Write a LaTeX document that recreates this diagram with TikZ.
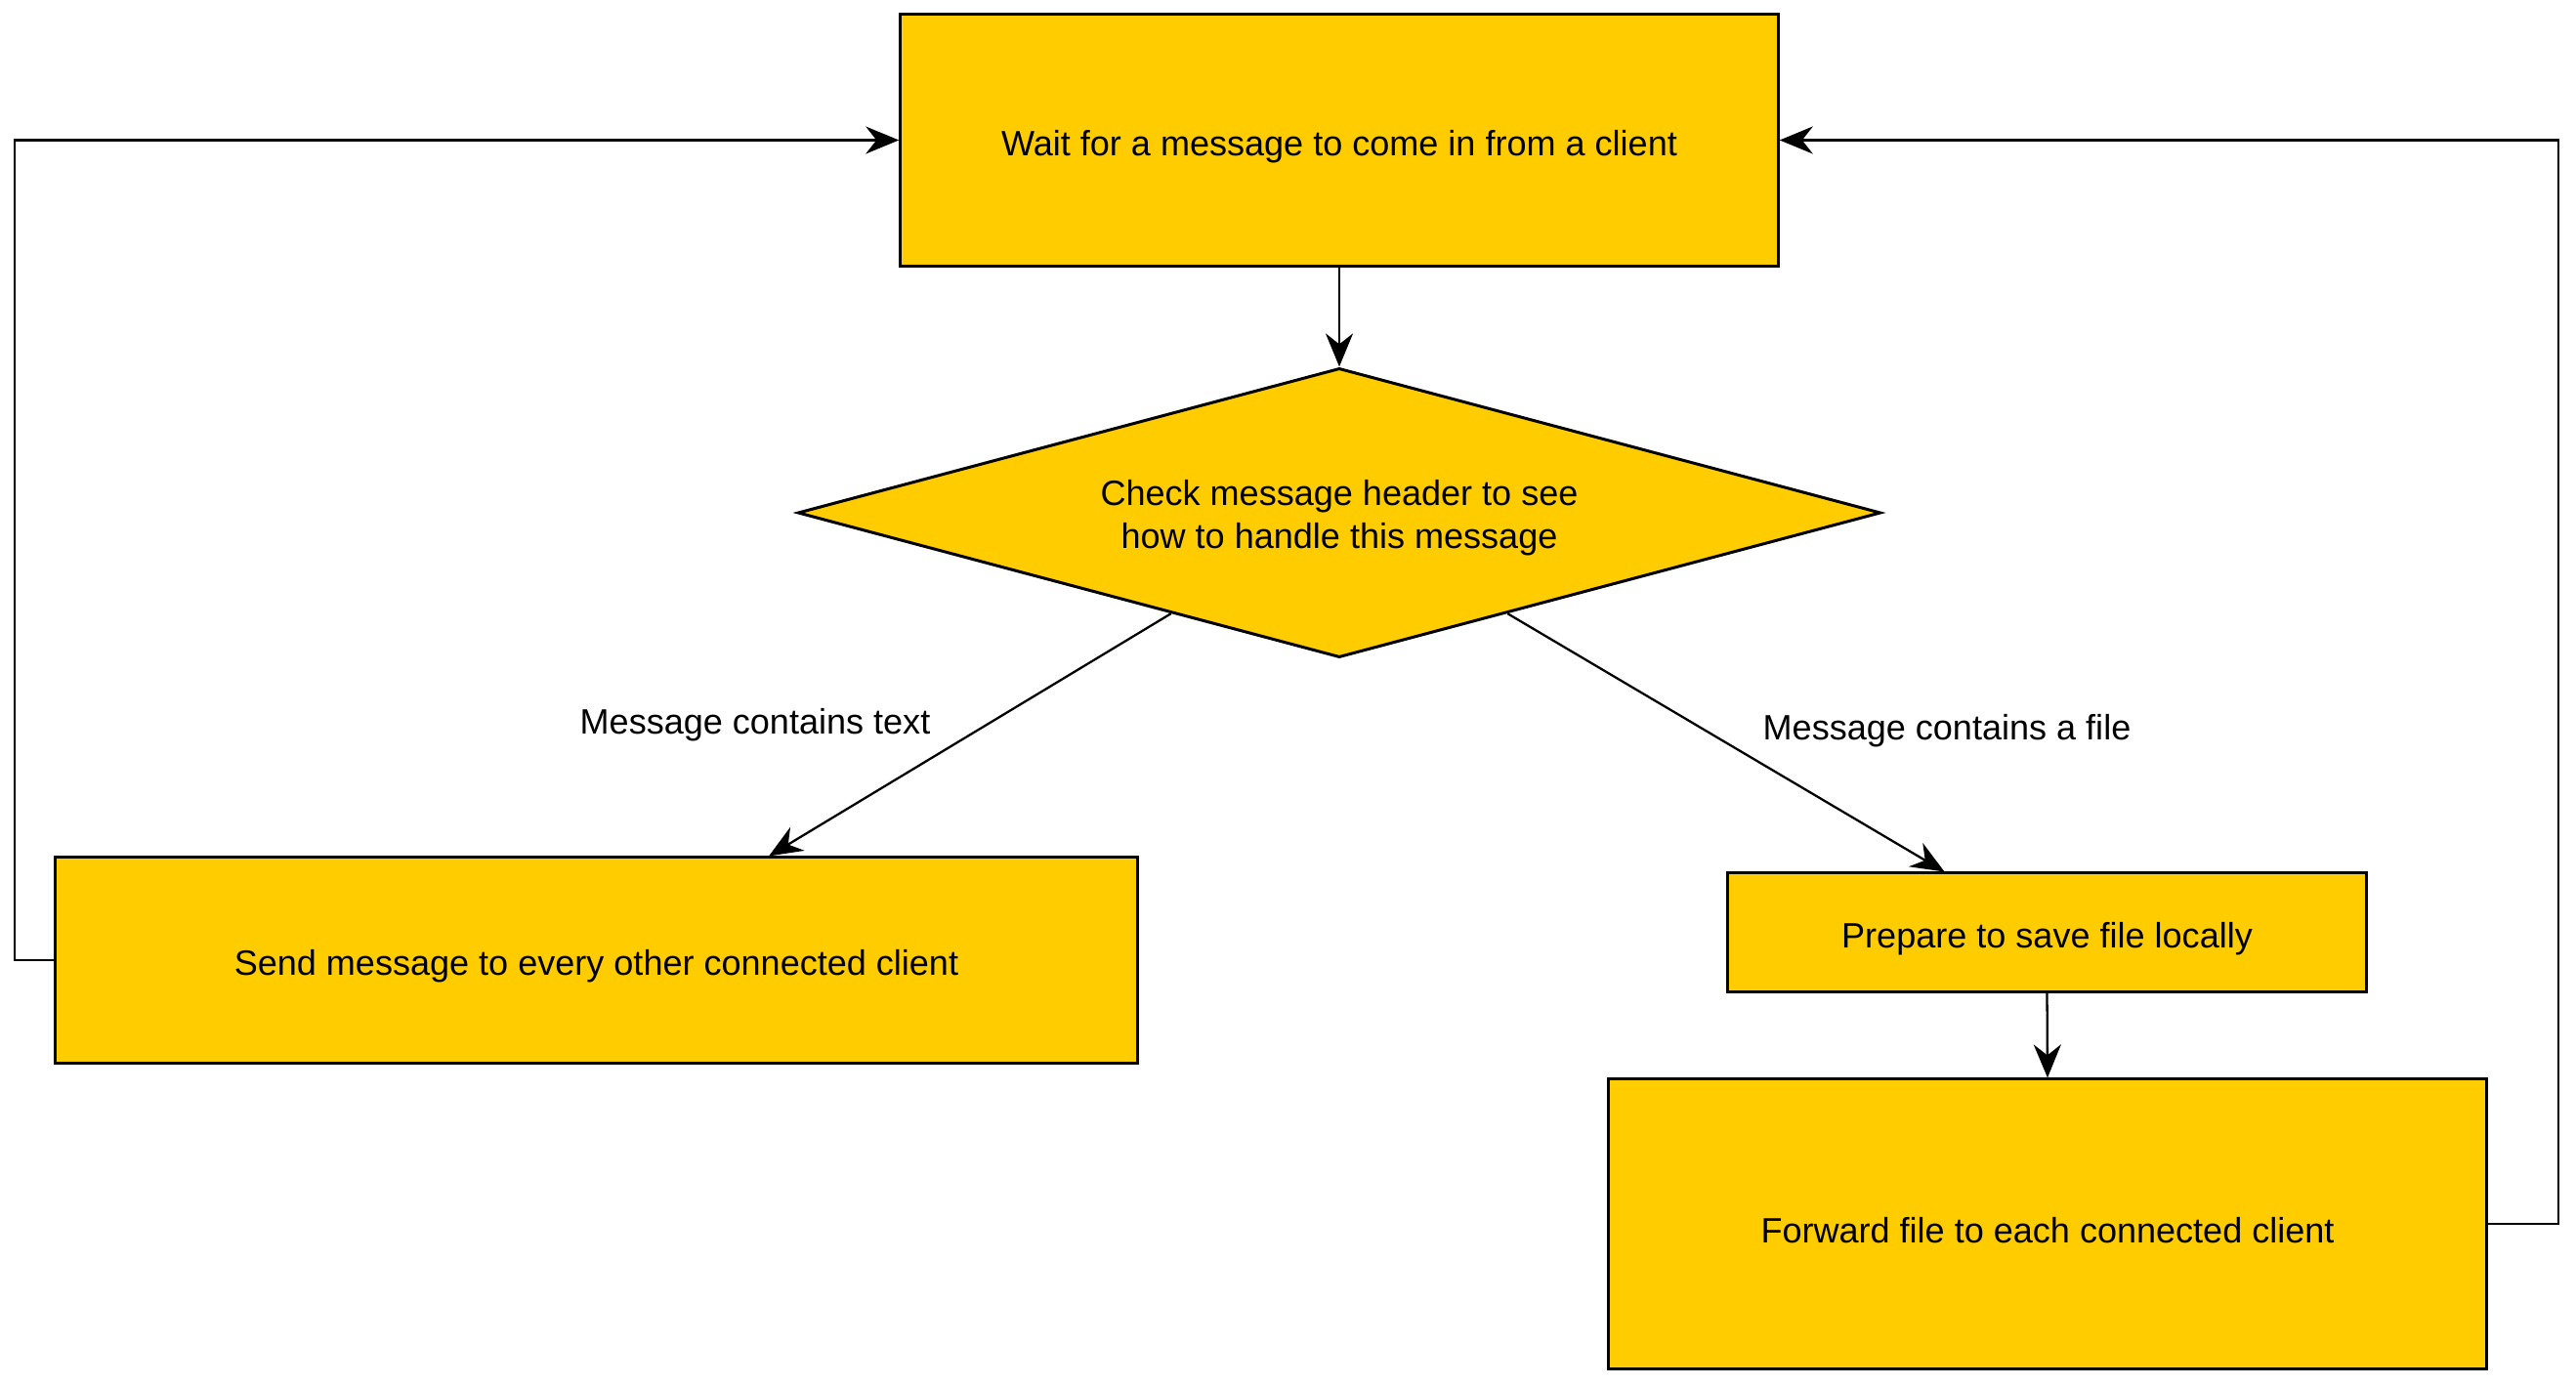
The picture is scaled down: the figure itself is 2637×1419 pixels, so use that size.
\documentclass[tikz,border=0pt]{standalone}
\usepackage{fontspec}
\setmainfont{Liberation Sans}
\usetikzlibrary{shapes.geometric,arrows.meta,calc}
\definecolor{boxfill}{RGB}{255,204,0}
\newcommand{\txtdown}[2][1.8pt]{\raisebox{-#1}[\height][\depth]{#2}}
\begin{document}
\begin{tikzpicture}[x=0.01cm,y=-0.01cm,
  font=\fontsize{10.25pt}{12.5pt}\selectfont,
  procbox/.style={draw=black,line width=0.85pt,fill=boxfill,inner sep=0pt,align=center},
  decbox/.style={procbox,diamond,shape aspect=3.74},
  arr/.style={line width=0.65pt,-{Stealth[length=0.34cm,width=0.28cm,inset=0.11cm]}},
  lbl/.style={inner sep=0pt,anchor=base}]
\useasboundingbox (0,0) rectangle (2637,1419);
\node[procbox,minimum width=8.98cm,minimum height=2.57cm] (wait) at (1371,143.5) {\txtdown{Wait for a message to come in from a client}};
\node[decbox,minimum width=11.08cm,minimum height=2.96cm] (check) at (1371,525) {\txtdown[1.4pt]{Check message header to see}\\\txtdown[1.4pt]{how to handle this message}};
\node[procbox,minimum width=11.07cm,minimum height=2.10cm] (send) at (610.5,983) {\txtdown{Send message to every other connected client}};
\node[procbox,minimum width=6.53cm,minimum height=1.21cm] (prep) at (2095.5,954.5) {\txtdown{Prepare to save file locally}};
\node[procbox,minimum width=8.99cm,minimum height=2.96cm] (fwd) at (2096,1253) {\txtdown{Forward file to each connected client}};
\node[lbl] (ltext) at (773,751) {Message contains text};
\node[lbl] (lfile) at (1993,757) {Message contains a file};
\draw[arr] (wait.south) -- (check.north);
\draw[arr] ($(check.west)!0.69!(check.south)$) -- ($(send.north west)!0.659!(send.north east)$);
\draw[arr] ($(check.east)!0.69!(check.south)$) -- ($(prep.north west)!0.34!(prep.north east)$);
\draw[arr] (prep.south) -- (fwd.north);
\draw[arr] (send.west) -- ++(-40,0) |- (wait.west);
\draw[arr] (fwd.east) -- ++(72,0) |- (wait.east);
\end{tikzpicture}
\end{document}
